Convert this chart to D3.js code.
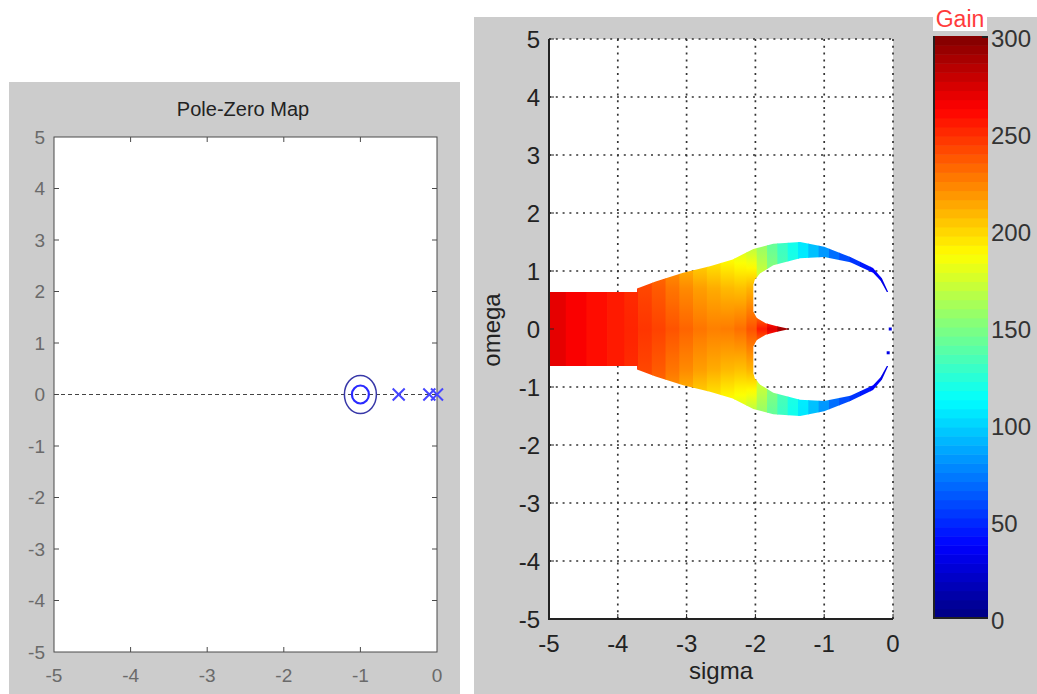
<!DOCTYPE html>
<html><head><meta charset="utf-8">
<script src="https://cdn.jsdelivr.net/npm/d3@7"></script>
<style>body{margin:0;background:#fff;} svg{display:block;font-family:Arial,"Liberation Sans",sans-serif;}</style>
</head><body><svg id="c" width="1037" height="694"></svg>
<script>
// ---------- data ----------
const pzXTicks = [-5, -4, -3, -2, -1, 0];
const pzYTicks = [5, 4, 3, 2, 1, 0, -1, -2, -3, -4, -5];
const zerosSigma = [-1, -1];
const polesSigma = [-0.5, -0.1, 0];

const sigmaTicks = [-5, -4, -3, -2, -1, 0];
const omegaTicks = [5, 4, 3, 2, 1, 0, -1, -2, -3, -4, -5];
const gainTicks = [0, 50, 100, 150, 200, 250, 300];

// upper half outline of the gain region (mirrored for omega < 0)
const outerSigma = [-5.0, -3.72, -3.72, -3.45, -3.05, -2.66, -2.33, -2.03, -1.74, -1.35, -1.0, -0.62, -0.29, -0.16, -0.07];
const outerOmega = [0.64, 0.64, 0.70, 0.82, 0.97, 1.08, 1.20, 1.38, 1.47, 1.50, 1.42, 1.24, 1.05, 0.87, 0.64];
const innerSigma = [-0.09, -0.18, -0.29, -0.62, -1.0, -1.35, -1.74, -1.93, -2.01, -2.03, -2.03, -1.98, -1.85, -1.70, -1.50];
const innerOmega = [0.64, 0.83, 0.97, 1.15, 1.24, 1.22, 1.10, 0.96, 0.85, 0.76, 0.30, 0.19, 0.10, 0.05, 0.0];

// gain read per column at omega = 0, 0.7, 1.4
const stopOmega = [0, 0.7, 1.4];
const colSigma  = [-4.9, -4.6, -4.3, -4.0, -3.8, -3.6, -3.4, -3.2, -3.0, -2.8, -2.6, -2.4, -2.2, -2.05, -1.9, -1.75, -1.6, -1.45, -1.3, -1.15, -1.0, -0.85, -0.7, -0.55, -0.4, -0.25, -0.1];
const gainCenter = [270, 264, 259, 255, 252, 247, 243, 238, 233, 228, 225, 226, 230, 238, 255, 272, 292, 300, 110, 96, 84, 72, 62, 53, 45, 38, 30];
const gainMid    = [270, 264, 259, 255, 250, 242, 236, 228, 222, 216, 212, 208, 206, 210, 180, 160, 140, 125, 110, 96, 84, 72, 62, 53, 45, 38, 30];
const gainEdge   = [270, 264, 259, 255, 245, 235, 225, 212, 200, 192, 186, 180, 175, 168, 158, 143, 130, 118, 106, 94, 82, 70, 60, 52, 44, 37, 30];

const strayDotSigma = [-0.04, -0.07];
const strayDotOmega = [0.0, -0.41];

// ---------- setup ----------
const svg = d3.select("#c");
const defs = svg.append("defs");

const jet = d3.scaleLinear()
  .domain([0, 37.5, 112.5, 187.5, 262.5, 300])
  .range(["#000080", "#0000ff", "#00ffff", "#ffff00", "#ff0000", "#800000"])
  .interpolate(d3.interpolateRgb).clamp(true);

// ---------- left panel: Pole-Zero Map ----------
svg.append("rect").attr("x", 9).attr("y", 82).attr("width", 451).attr("height", 612).attr("fill", "#cccccc");
const xL = d3.scaleLinear().domain([-5, 0]).range([54, 437]);
const yL = d3.scaleLinear().domain([-5, 5]).range([652, 137]);
const L = svg.append("g");
L.append("rect").attr("x", xL(-5)).attr("y", yL(5)).attr("width", xL(0) - xL(-5)).attr("height", yL(-5) - yL(5))
  .attr("fill", "#fff").attr("stroke", "#4a4a4a").attr("stroke-width", 1);
pzXTicks.slice(1, -1).forEach(v => {
  L.append("line").attr("x1", xL(v)).attr("x2", xL(v)).attr("y1", yL(-5)).attr("y2", yL(-5) - 5).attr("stroke", "#4a4a4a");
  L.append("line").attr("x1", xL(v)).attr("x2", xL(v)).attr("y1", yL(5)).attr("y2", yL(5) + 5).attr("stroke", "#4a4a4a");
});
pzYTicks.slice(1, -1).forEach(v => {
  L.append("line").attr("x1", xL(-5)).attr("x2", xL(-5) + 5).attr("y1", yL(v)).attr("y2", yL(v)).attr("stroke", "#4a4a4a");
  L.append("line").attr("x1", xL(0)).attr("x2", xL(0) - 5).attr("y1", yL(v)).attr("y2", yL(v)).attr("stroke", "#4a4a4a");
});
L.selectAll("text.xl").data(pzXTicks).enter().append("text")
  .attr("x", d => xL(d)).attr("y", yL(-5) + 30).attr("text-anchor", "middle")
  .attr("font-size", 19).attr("fill", "#6a6a6a").text(d => d);
L.selectAll("text.yl").data(pzYTicks).enter().append("text")
  .attr("x", xL(-5) - 9).attr("y", d => yL(d)).attr("dy", "0.35em").attr("text-anchor", "end")
  .attr("font-size", 19).attr("fill", "#6a6a6a").text(d => d);
L.append("text").attr("x", 243).attr("y", 116).attr("text-anchor", "middle")
  .attr("font-size", 20).attr("fill", "#222").text("Pole-Zero Map");
L.append("line").attr("x1", xL(-5)).attr("x2", xL(0)).attr("y1", yL(0)).attr("y2", yL(0))
  .attr("stroke", "#444").attr("stroke-dasharray", "4,3").attr("stroke-width", 1);
const zeroStyle = [{rx: 16, ry: 19, c: "#3838a8", w: 1.5}, {rx: 8.5, ry: 9, c: "#2a2aff", w: 2.2}];
zerosSigma.forEach((s, i) => {
  const st = zeroStyle[i % 2];
  L.append("ellipse").attr("cx", xL(s)).attr("cy", yL(0)).attr("rx", st.rx).attr("ry", st.ry)
    .attr("fill", "none").attr("stroke", st.c).attr("stroke-width", st.w);
});
polesSigma.forEach(s => {
  const cx = xL(s), cy = yL(0), h = 6;
  L.append("path").attr("d", `M${cx-h},${cy-h}L${cx+h},${cy+h}M${cx-h},${cy+h}L${cx+h},${cy-h}`)
    .attr("stroke", "#4646ff").attr("stroke-width", 2).attr("fill", "none");
});

// ---------- right panel: gain map ----------
svg.append("rect").attr("x", 474).attr("y", 17).attr("width", 563).attr("height", 677).attr("fill", "#cccccc");
const xR = d3.scaleLinear().domain([-5, 0]).range([549, 893]);
const yR = d3.scaleLinear().domain([-5, 5]).range([619, 39]);
const R = svg.append("g");
R.append("rect").attr("x", xR(-5)).attr("y", yR(5)).attr("width", xR(0) - xR(-5)).attr("height", yR(-5) - yR(5)).attr("fill", "#fff");
sigmaTicks.forEach(v => R.append("line").attr("x1", xR(v)).attr("x2", xR(v)).attr("y1", yR(5)).attr("y2", yR(-5))
  .attr("stroke", "#333").attr("stroke-width", 1.7).attr("stroke-dasharray", "2,4.8"));
omegaTicks.forEach(v => R.append("line").attr("x1", xR(-5)).attr("x2", xR(0)).attr("y1", yR(v)).attr("y2", yR(v))
  .attr("stroke", "#333").attr("stroke-width", 1.7).attr("stroke-dasharray", "2,4.8"));

const upper = outerSigma.map((s, i) => [s, outerOmega[i]]).concat(innerSigma.map((s, i) => [s, innerOmega[i]]));
const lower = upper.slice().reverse().map(([s, o]) => [s, -o]);
const outline = upper.concat(lower);
const lineGen = d3.line().x(d => xR(d[0])).y(d => yR(d[1]));
defs.append("clipPath").attr("id", "regionClip").append("path").attr("d", lineGen(outline) + "Z");

const bounds = [-5].concat(colSigma.slice(1).map((s, i) => (s + colSigma[i]) / 2)).concat([0]);
const span = stopOmega[stopOmega.length - 1];
const regionG = R.append("g").attr("clip-path", "url(#regionClip)");
colSigma.forEach((s, i) => {
  const g = [gainCenter[i], gainMid[i], gainEdge[i]];
  const grad = defs.append("linearGradient").attr("id", "gs" + i).attr("gradientUnits", "userSpaceOnUse")
    .attr("x1", 0).attr("x2", 0).attr("y1", yR(span)).attr("y2", yR(-span));
  const stops = [];
  for (let k = stopOmega.length - 1; k > 0; k--) {
    for (let t = 0; t < 8; t++) {
      const f = t / 8;
      const om = stopOmega[k] + (stopOmega[k - 1] - stopOmega[k]) * f;
      const gv = g[k] + (g[k - 1] - g[k]) * f;
      stops.push([om, gv]);
    }
  }
  stops.push([0, g[0]]);
  const all = stops.concat(stops.slice(0, -1).reverse().map(([o, v]) => [-o, v]));
  all.forEach(([o, v]) => grad.append("stop").attr("offset", (span - o) / (2 * span)).attr("stop-color", jet(v)));
  regionG.append("rect").attr("x", xR(bounds[i]) - 0.4).attr("width", xR(bounds[i + 1]) - xR(bounds[i]) + 0.8)
    .attr("y", yR(1.7)).attr("height", yR(-1.7) - yR(1.7)).attr("fill", `url(#gs${i})`);
});
strayDotSigma.forEach((s, i) => R.append("rect").attr("x", xR(s) - 1.5).attr("y", yR(strayDotOmega[i]) - 1.5)
  .attr("width", 3).attr("height", 3).attr("fill", jet(30)));

R.append("line").attr("x1", xR(-5)).attr("x2", xR(-5)).attr("y1", yR(5)).attr("y2", yR(-5) + 1).attr("stroke", "#222").attr("stroke-width", 2);
R.append("line").attr("x1", xR(-5)).attr("x2", xR(0)).attr("y1", yR(-5)).attr("y2", yR(-5)).attr("stroke", "#222").attr("stroke-width", 2);
sigmaTicks.forEach(v => R.append("line").attr("x1", xR(v)).attr("x2", xR(v)).attr("y1", yR(-5)).attr("y2", yR(-5) - 5).attr("stroke", "#222"));
omegaTicks.forEach(v => R.append("line").attr("x1", xR(-5)).attr("x2", xR(-5) + 5).attr("y1", yR(v)).attr("y2", yR(v)).attr("stroke", "#222"));

R.selectAll("text.xt").data(sigmaTicks).enter().append("text")
  .attr("x", d => xR(d)).attr("y", yR(-5) + 33).attr("text-anchor", "middle")
  .attr("font-size", 24).attr("fill", "#222").text(d => d);
R.selectAll("text.yt").data(omegaTicks).enter().append("text")
  .attr("x", xR(-5) - 9).attr("y", d => yR(d)).attr("dy", "0.36em").attr("text-anchor", "end")
  .attr("font-size", 24).attr("fill", "#222").text(d => d);
R.append("text").attr("x", 721).attr("y", 679).attr("text-anchor", "middle").attr("font-size", 24).attr("fill", "#222").text("sigma");
R.append("text").attr("transform", "translate(500,330) rotate(-90)").attr("text-anchor", "middle")
  .attr("font-size", 24).attr("fill", "#222").text("omega");

// ---------- colorbar ----------
const gC = d3.scaleLinear().domain([0, 300]).range([618, 36]);
const nLev = 64;
const CB = svg.append("g");
d3.range(nLev).forEach(k => {
  const g0 = k * 300 / nLev, g1 = (k + 1) * 300 / nLev;
  CB.append("rect").attr("x", 934).attr("width", 54).attr("y", gC(g1)).attr("height", gC(g0) - gC(g1) + 0.5)
    .attr("fill", jet((g0 + g1) / 2));
});
CB.append("line").attr("x1", 934).attr("x2", 934).attr("y1", gC(300)).attr("y2", gC(0)).attr("stroke", "#222").attr("stroke-width", 2);
CB.append("line").attr("x1", 933).attr("x2", 988).attr("y1", gC(0)).attr("y2", gC(0)).attr("stroke", "#222").attr("stroke-width", 2);
CB.append("line").attr("x1", 982).attr("x2", 988).attr("y1", gC(300) + 1).attr("y2", gC(300) + 1).attr("stroke", "#222").attr("stroke-width", 2);
CB.selectAll("text.ct").data(gainTicks).enter().append("text")
  .attr("x", 991).attr("y", d => gC(d) + 2).attr("dy", "0.36em").attr("font-size", 24).attr("fill", "#333").text(d => d);
CB.append("rect").attr("x", 933).attr("y", 6).attr("width", 54).attr("height", 25).attr("fill", "#fff");
CB.append("text").attr("x", 960).attr("y", 27).attr("text-anchor", "middle").attr("font-size", 23).attr("fill", "#ff3b3b").text("Gain");
</script></body></html>
